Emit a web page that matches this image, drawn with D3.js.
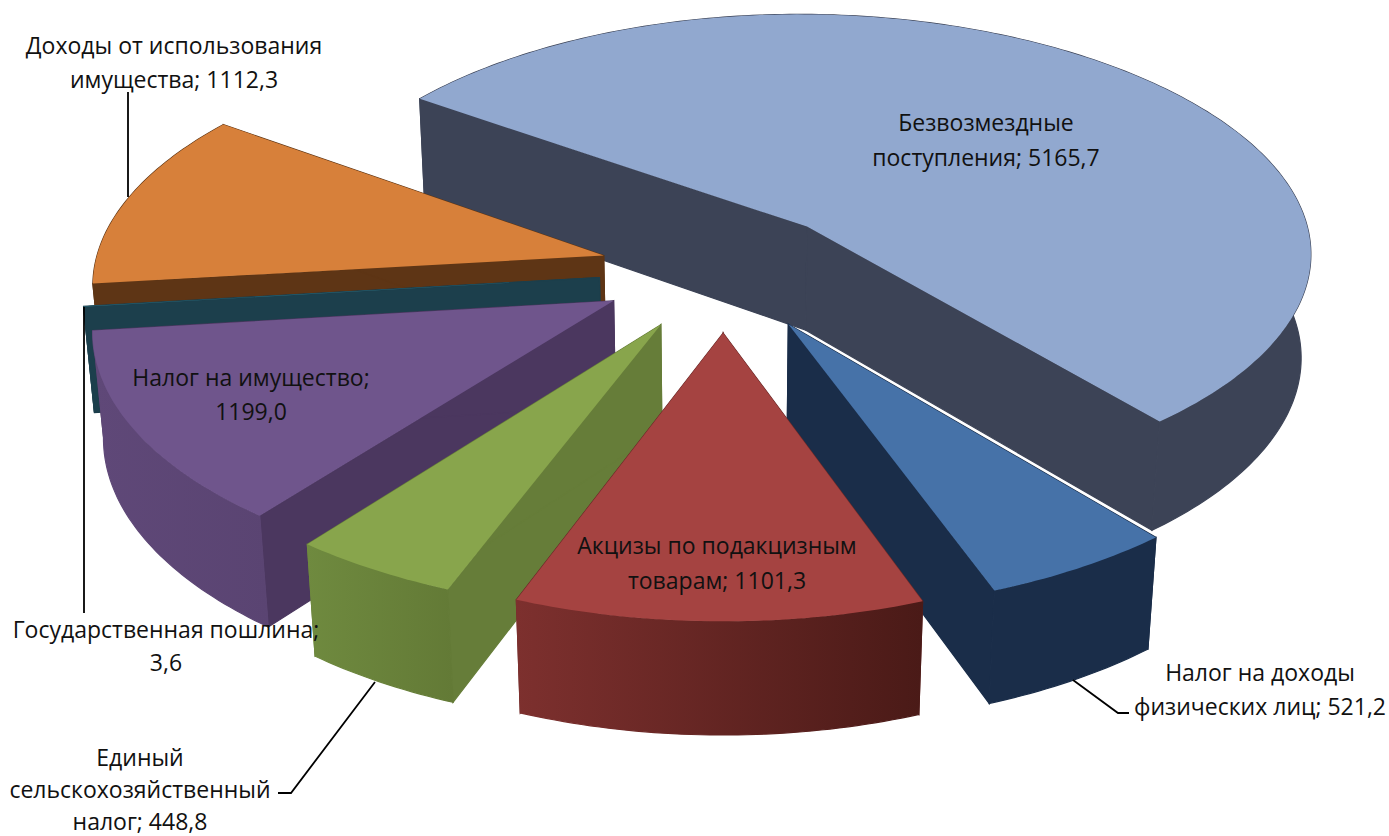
<!DOCTYPE html>
<html>
<head>
<meta charset="utf-8">
<script src="https://cdn.jsdelivr.net/npm/d3@7"></script>
<style>
  html, body { margin: 0; padding: 0; background: #fff; }
  text { font-family: "Open Sans", "Noto Sans", sans-serif; font-size: 23px; fill: #111; text-anchor: middle; }
</style>
</head>
<body>
<div id="chart"></div>
<script>
// chart values, in the order of the pie (clockwise)
var categories = ['Безвозмездные поступления', 'Налог на доходы физических лиц', 'Акцизы по подакцизным товарам',
  'Единый сельскохозяйственный налог', 'Налог на имущество', 'Государственная пошлина', 'Доходы от использования имущества'];
var values = [5165.7, 521.2, 1101.3, 448.8, 1199.0, 3.6, 1112.3];

var topColors = ['#91a8cf', '#4672a8', '#a54341', '#88a54c', '#6f558c', '#2c6f80', '#d7803a'];
var sideColors = ['#3c4356', '#1a2d49', '#6a2a28', '#667d39', '#4b375f', '#1c3f4c', '#5e3515'];
var wallFrom = ['#3c4356', '#1a2d49', '#7d302e', '#6f8a3f', '#5f4878', '#1c3f4c', '#5e3515'];
var wallTo = ['#3c4356', '#1a2d49', '#4a1a17', '#637a36', '#5a4472', '#1c3f4c', '#5e3515'];

// painter's order, back to front
var drawOrder = [0, 6, 5, 4, 3, 1, 2];

var labelLines = [
  ['Безвозмездные', 'поступления; 5165,7'],
  ['Налог на доходы', 'физических лиц; 521,2'],
  ['Акцизы по подакцизным', 'товарам; 1101,3'],
  ['Единый', 'сельскохозяйственный', 'налог; 448,8'],
  ['Налог на имущество;', '1199,0'],
  ['Государственная пошлина;', '3,6'],
  ['Доходы от использования', 'имущества; 1112,3']
];
var labelX = [986, 1260, 717, 140, 251, 166, 174];
var labelY = [131, 681, 554, 766, 386, 638, 54];
var labelStep = [35, 34, 35, 32, 34, 33, 34];

var leaders = [
  [[128, 197], [128, 92]],
  [[84, 307], [84, 613]],
  [[375, 682], [291, 793], [278, 793]],
  [[1073, 680], [1118, 713], [1129, 713]]
];

var width = 1389, height = 836;

// projection of the tilted pie
var cx = 724, cy = 270.5;
var radiusPx = 500;     // pixels per unit radius on the centre line
var tilt = 0.487;       // squash of the pie plane
var persp = 0.106;      // near parts get bigger
var depth = 0.213;      // thickness of the pie
var lean = 0.017;       // bottom of the walls shrinks a little
var bulge = 0.02;       // the rim is a bit wider at the sides than a true ellipse
var explode = 0.25;

function project(x, y, z) {
  var w = 1 - y * persp + z * lean;
  return [cx + x * radiusPx / w, cy + (y * tilt + z * depth) * radiusPx / w];
}

var svg = d3.select('#chart').append('svg')
  .attr('width', width)
  .attr('height', height);
var defs = svg.append('defs');

var pie = d3.pie()
  .sort(null)
  .startAngle(-54.7 * Math.PI / 180)
  .endAngle(305.3 * Math.PI / 180);
var arcs = pie(values);
var path = d3.line();

function drawSlice(i) {
  var d = arcs[i];
  var mid = (d.startAngle + d.endAngle) / 2;
  var ox = explode * Math.sin(mid), oy = -explode * Math.cos(mid);

  function pt(a, r, z) {
    var s = Math.sin(a);
    return project(ox + r * s * (1 + bulge * s * s), oy - r * Math.cos(a), z);
  }
  function rim(z) {
    var n = Math.max(2, Math.ceil((d.endAngle - d.startAngle) * 60));
    return d3.range(n + 1).map(function(k) {
      return pt(d.startAngle + (d.endAngle - d.startAngle) * k / n, 1, z);
    });
  }

  var g = svg.append('g');

  // the two straight walls
  [d.startAngle, d.endAngle].forEach(function(a) {
    g.append('path')
      .attr('d', path([pt(a, 0, 0), pt(a, 1, 0), pt(a, 1, 1), pt(a, 0, 1)]) + 'Z')
      .attr('fill', sideColors[i])
      .attr('stroke', sideColors[i])
      .attr('stroke-width', 1.2);
  });

  // outer wall
  var grad = defs.append('linearGradient').attr('id', 'wall' + i);
  grad.append('stop').attr('offset', '0%').attr('stop-color', wallFrom[i]);
  grad.append('stop').attr('offset', '100%').attr('stop-color', wallTo[i]);
  g.append('path')
    .attr('d', path(rim(0).concat(rim(1).reverse())) + 'Z')
    .attr('fill', 'url(#wall' + i + ')')
    .attr('stroke', 'url(#wall' + i + ')')
    .attr('stroke-width', 1.2);

  // top face
  g.append('path')
    .attr('d', path([pt(d.startAngle, 0, 0)].concat(rim(0))) + 'Z')
    .attr('fill', topColors[i]);
}

drawOrder.forEach(drawSlice);

// leader lines
svg.selectAll('path.leader')
  .data(leaders)
  .enter().append('path')
  .attr('class', 'leader')
  .attr('d', function(d) { return path(d); })
  .attr('fill', 'none')
  .attr('stroke', '#000')
  .attr('stroke-width', 1.8);

// labels
labelLines.forEach(function(lines, i) {
  lines.forEach(function(line, k) {
    svg.append('text')
      .attr('x', labelX[i])
      .attr('y', labelY[i] + k * labelStep[i])
      .text(line);
  });
});
</script>
</body>
</html>
